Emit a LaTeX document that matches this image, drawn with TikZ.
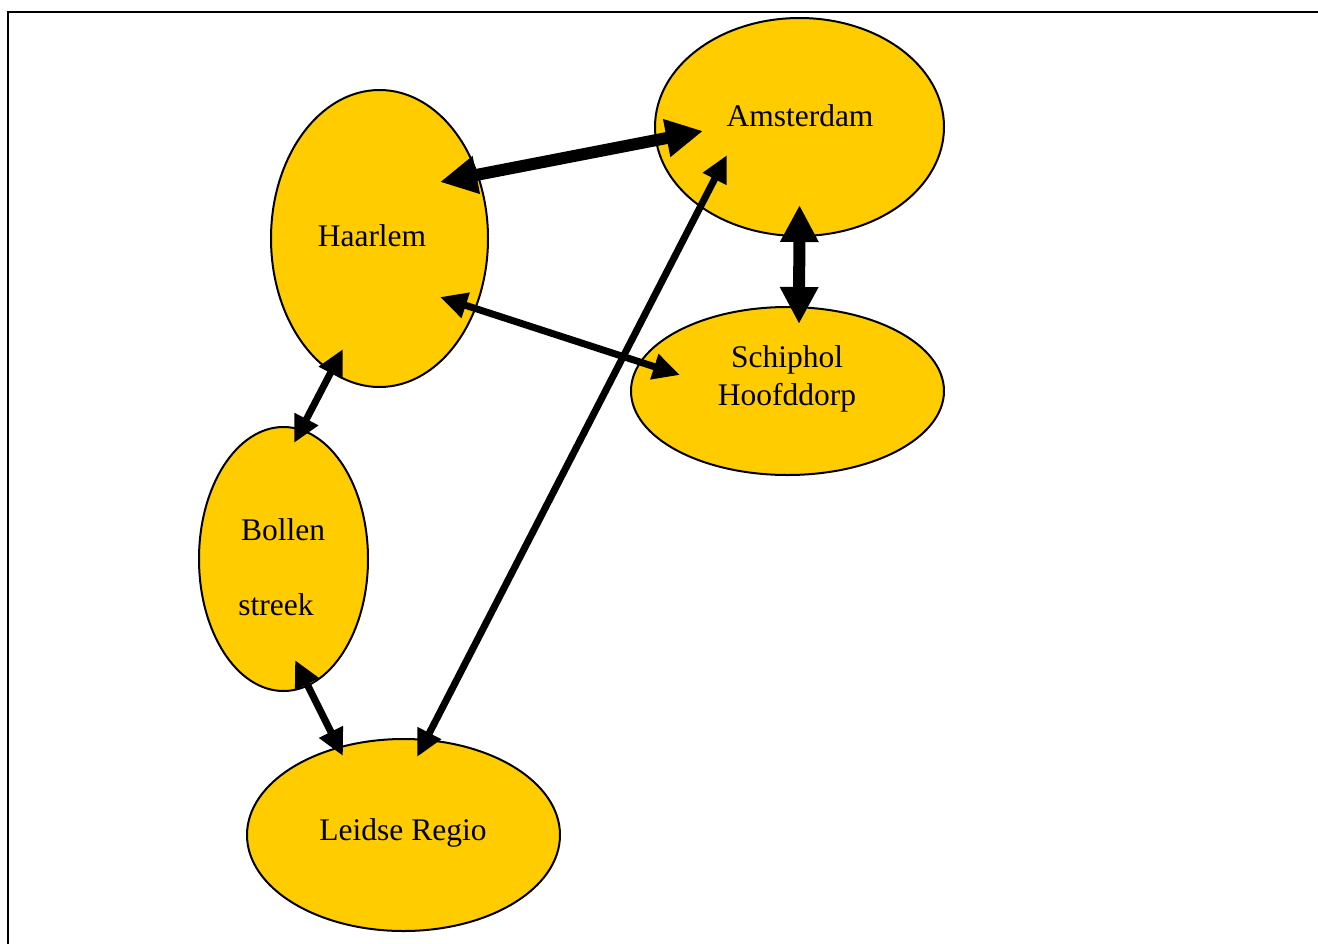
\documentclass[tikz,border=0pt]{standalone}
\usepackage{fontspec}
\setmainfont{Liberation Serif}
\usetikzlibrary{shapes.geometric,arrows.meta}
\definecolor{regio}{HTML}{FFCC00}
\tikzset{
  regio/.style={ellipse, draw=black, line width=2pt, fill=regio, inner sep=0pt},
  lbl/.style={font=\fontsize{31.5}{38}\selectfont, inner sep=0pt},
  bigarrow/.style={line width=12pt, {Triangle[length=37pt,width=36pt]}-{Triangle[length=37pt,width=36pt]}},
  midarrow/.style={line width=7pt, {Triangle[length=27pt,width=25pt]}-{Triangle[length=27pt,width=25pt]}},
}
\begin{document}
\begin{tikzpicture}[x=1pt,y=-1pt]
\useasboundingbox (0,0) rectangle (1318,943);
\draw[line width=2pt] (7.5,960) -- (7.5,11.5) -- (1330,11.5);
% regions
\node[regio, minimum width=289pt, minimum height=218pt] (ams) at (799.5,127) {};
\node[regio, minimum width=217pt, minimum height=297pt] (haa) at (379.5,238.5) {};
\node[regio, minimum width=313pt, minimum height=168pt] (sch) at (787.5,391) {};
\node[regio, minimum width=169pt, minimum height=264pt] (bol) at (283.5,559) {};
\node[regio, minimum width=313pt, minimum height=192pt] (lei) at (403.5,835) {};
% labels
\node[lbl] (tams) at (800,116) {Amsterdam};
\node[lbl] (thaa) at (372,236) {Haarlem};
\node[lbl] (tsch1) at (787,360) {Schiphol};
\node[lbl] (tsch2) at (787,398) {Hoofddorp};
\node[lbl] (tbol1) at (283,530) {Bollen};
\node[lbl] (tbol2) at (276,605) {streek};
\node[lbl] (tlei) at (403,833) {Leidse Regio};
% connectors
\draw[bigarrow] ([shift={(60.5,-56.5)}]haa.center) -- ([shift={(-96.5,4)}]ams.center);
\draw[bigarrow] ([shift={(0,78)}]ams.center) -- ([shift={(11.5,-67)}]sch.center);
\draw[midarrow] ([shift={(60.5,58.5)}]haa.center) -- ([shift={(-107.5,-16)}]sch.center);
\draw[midarrow] ([shift={(-36.5,110.5)}]haa.center) -- ([shift={(10.5,-116)}]bol.center);
\draw[midarrow] ([shift={(11.5,101)}]bol.center) -- ([shift={(-60.5,-79)}]lei.center);
\draw[midarrow] ([shift={(-72.5,28)}]ams.center) -- ([shift={(13.5,-78)}]lei.center);
\end{tikzpicture}
\end{document}
